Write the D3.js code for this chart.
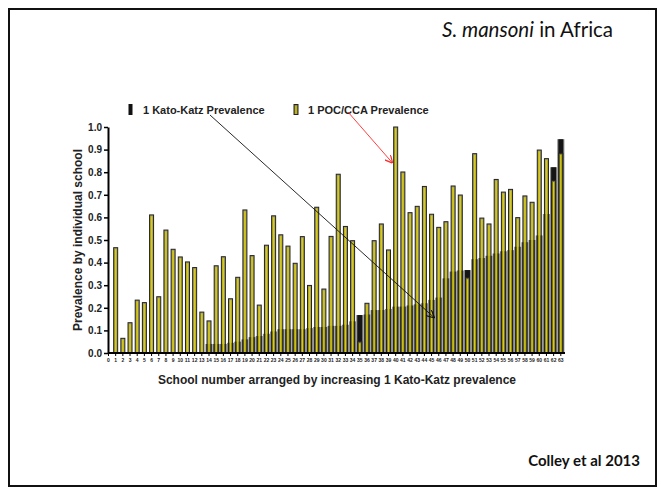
<!DOCTYPE html>
<html>
<head>
<meta charset="utf-8">
<script src="https://cdn.jsdelivr.net/npm/d3@7"></script>
<style>
  html, body { margin: 0; padding: 0; background: #fff; }
  svg { display: block; }
</style>
</head>
<body>
<div id="chart"></div>
<script>
// schools, ordered by increasing Kato-Katz prevalence
const schools = [0,1,2,3,4,5,6,7,8,9,10,11,12,13,14,15,16,17,18,19,20,21,22,23,24,25,26,27,28,29,30,31,
  32,33,34,35,36,37,38,39,40,41,42,43,44,45,46,47,48,49,50,51,52,53,54,55,56,57,58,59,60,61,62,63];

// 1 Kato-Katz prevalence
const kkPrev = [0,0,0,0,0,0,0,0,0,0,0,0,0,0,
  0.04,0.04,0.04,0.045,0.05,0.06,0.07,0.075,0.085,0.095,0.105,0.105,0.105,0.105,0.11,0.115,0.115,0.12,
  0.12,0.125,0.14,0.168,0.17,0.19,0.19,0.195,0.205,0.205,0.21,0.215,0.22,0.235,0.245,0.33,0.36,0.365,
  0.367,0.415,0.42,0.43,0.44,0.45,0.455,0.47,0.49,0.50,0.52,0.615,0.822,0.946];

// 1 POC/CCA prevalence
const pocPrev = [0,0.466,0.065,0.134,0.234,0.223,0.611,0.249,0.544,0.459,0.425,0.403,0.378,0.181,0.142,
  0.386,0.426,0.240,0.335,0.633,0.431,0.212,0.477,0.607,0.523,0.473,0.397,0.515,0.299,0.645,0.283,0.516,
  0.791,0.560,0.497,0.05,0.220,0.497,0.571,0.456,1.0,0.801,0.621,0.649,0.737,0.614,0.556,0.581,0.739,
  0.699,0.333,0.882,0.597,0.571,0.768,0.712,0.724,0.599,0.695,0.667,0.898,0.860,0.763,0.884];

const yTicks = [0,0.1,0.2,0.3,0.4,0.5,0.6,0.7,0.8,0.9,1.0];

const W = 661, H = 490;
const olive = '#8f8a3e', yellow = '#dccd00';

const svg = d3.select('#chart').append('svg')
  .attr('width', W).attr('height', H);

// slide frame
svg.append('rect')
  .attr('x', 9).attr('y', 9).attr('width', 647).attr('height', 477)
  .attr('fill', 'none').attr('stroke', '#111').attr('stroke-width', 2);

svg.append('text')
  .attr('x', 442).attr('y', 37)
  .attr('font-family', 'Lato, "Open Sans", sans-serif')
  .attr('font-size', 20.5).attr('fill', '#111')
  .call(t => {
    t.append('tspan').attr('font-style', 'italic').text('S. mansoni');
    t.append('tspan').text(' in Africa');
  });

svg.append('text')
  .attr('x', 640).attr('y', 466).attr('text-anchor', 'end')
  .attr('font-family', 'Lato, "Open Sans", sans-serif')
  .attr('font-size', 15).attr('font-weight', 'bold').attr('fill', '#111')
  .text('Colley et al 2013');

// scales
const x = d3.scaleBand()
  .domain(schools)
  .range([104.9, 564.4])
  .paddingInner(0);

const y = d3.scaleLinear()
  .domain([0, 1])
  .range([353, 127]);

const bw = x.bandwidth();
const barW = 5;
const cx = d => x(d) + bw / 2;

const plot = svg.append('g');

// grey Kato-Katz band behind
plot.selectAll('.kk-band')
  .data(schools.filter(s => kkPrev[s] > 0))
  .enter().append('rect')
  .attr('class', 'kk-band')
  .attr('x', d => x(d))
  .attr('width', bw)
  .attr('y', d => y(kkPrev[d]))
  .attr('height', d => y(0) - y(kkPrev[d]))
  .attr('fill', '#8e8e8e');

// black Kato-Katz bar
plot.selectAll('.kk-bar')
  .data(schools.filter(s => kkPrev[s] > 0))
  .enter().append('rect')
  .attr('class', 'kk-bar')
  .attr('x', d => cx(d) - barW / 2)
  .attr('width', barW)
  .attr('y', d => y(kkPrev[d]))
  .attr('height', d => y(0) - y(kkPrev[d]))
  .attr('fill', '#151515');

// POC/CCA bars
const poc = plot.selectAll('.poc')
  .data(schools.filter(s => pocPrev[s] > 0))
  .enter().append('g')
  .attr('class', 'poc');

poc.append('rect')
  .attr('x', d => cx(d) - barW / 2 + 0.5)
  .attr('width', barW - 1)
  .attr('y', d => y(pocPrev[d]))
  .attr('height', d => y(0) - y(pocPrev[d]))
  .attr('fill', olive)
  .attr('fill-opacity', 0.82)
  .attr('stroke', '#222')
  .attr('stroke-width', 1);

poc.append('line')
  .attr('x1', d => cx(d)).attr('x2', d => cx(d))
  .attr('y1', d => y(pocPrev[d]) + 1.5)
  .attr('y2', y(0))
  .attr('stroke', yellow)
  .attr('stroke-width', 1.4);

// axes
const xAxis = d3.axisBottom(x).tickSize(3).tickSizeOuter(0).tickPadding(2);
svg.append('g')
  .attr('transform', `translate(0,${y(0)})`)
  .call(xAxis)
  .call(g => g.select('.domain').attr('d', `M108,0H565`).attr('stroke', '#000').attr('stroke-width', 2))
  .call(g => g.selectAll('.tick line').attr('stroke', '#000').attr('stroke-width', 1))
  .call(g => g.selectAll('.tick text')
    .attr('font-family', '"Liberation Sans", Arial, sans-serif')
    .attr('font-size', 5).attr('font-weight', 'bold').attr('fill', '#222'));

const yAxis = d3.axisLeft(y).tickValues(yTicks).tickFormat(d3.format('.1f'))
  .tickSize(4).tickSizeOuter(0).tickPadding(2);
svg.append('g')
  .attr('transform', 'translate(108,0)')
  .call(yAxis)
  .call(g => g.select('.domain').attr('stroke', '#000').attr('stroke-width', 2))
  .call(g => g.selectAll('.tick line').attr('stroke', '#000').attr('stroke-width', 1.5))
  .call(g => g.selectAll('.tick text')
    .attr('font-family', '"Liberation Sans", Arial, sans-serif')
    .attr('font-size', 10).attr('font-weight', 'bold').attr('fill', '#222'));

// axis titles
svg.append('text')
  .attr('x', 337).attr('y', 384).attr('text-anchor', 'middle')
  .attr('font-family', '"Liberation Sans", Arial, sans-serif')
  .attr('font-size', 12).attr('font-weight', 'bold').attr('fill', '#222')
  .text('School number arranged by increasing 1 Kato-Katz prevalence');

svg.append('text')
  .attr('transform', `translate(81.5,${(y(0) + y(1)) / 2}) rotate(-90)`)
  .attr('text-anchor', 'middle')
  .attr('font-family', '"Liberation Sans", Arial, sans-serif')
  .attr('font-size', 12).attr('font-weight', 'bold').attr('fill', '#222')
  .text('Prevalence by individual school');

// legend
const legend = svg.append('g')
  .attr('font-family', '"Liberation Sans", Arial, sans-serif')
  .attr('font-size', 11).attr('font-weight', 'bold').attr('fill', '#222');

legend.append('rect').attr('x', 128.5).attr('y', 104).attr('width', 4).attr('height', 11).attr('fill', '#111');
legend.append('text').attr('x', 143).attr('y', 114).text('1 Kato-Katz Prevalence');

legend.append('rect').attr('x', 294).attr('y', 104.5).attr('width', 4).attr('height', 10)
  .attr('fill', olive).attr('stroke', '#222').attr('stroke-width', 1);
legend.append('line').attr('x1', 296).attr('x2', 296).attr('y1', 106).attr('y2', 114)
  .attr('stroke', yellow).attr('stroke-width', 1.2);
legend.append('text').attr('x', 308).attr('y', 114).text('1 POC/CCA Prevalence');

// annotation arrows
const defs = svg.append('defs');
[['arrow-black', '#111'], ['arrow-red', '#ff2a2a']].forEach(([id, c]) => {
  defs.append('marker')
    .attr('id', id)
    .attr('viewBox', '0 0 10 10')
    .attr('refX', 10).attr('refY', 5)
    .attr('markerWidth', 8).attr('markerHeight', 8)
    .attr('markerUnits', 'userSpaceOnUse')
    .attr('orient', 'auto')
    .append('path')
    .attr('d', 'M0,0L10,5L0,10')
    .attr('fill', 'none').attr('stroke', c).attr('stroke-width', 1.5);
});

svg.append('line')
  .attr('x1', 210).attr('y1', 115)
  .attr('x2', cx(45) + 3).attr('y2', y(0.155))
  .attr('stroke', '#111').attr('stroke-width', 0.9)
  .attr('marker-end', 'url(#arrow-black)');

svg.append('line')
  .attr('x1', 348).attr('y1', 112)
  .attr('x2', cx(40) - 3).attr('y2', y(0.84))
  .attr('stroke', '#ff2a2a').attr('stroke-width', 0.9)
  .attr('marker-end', 'url(#arrow-red)');
</script>
</body>
</html>
